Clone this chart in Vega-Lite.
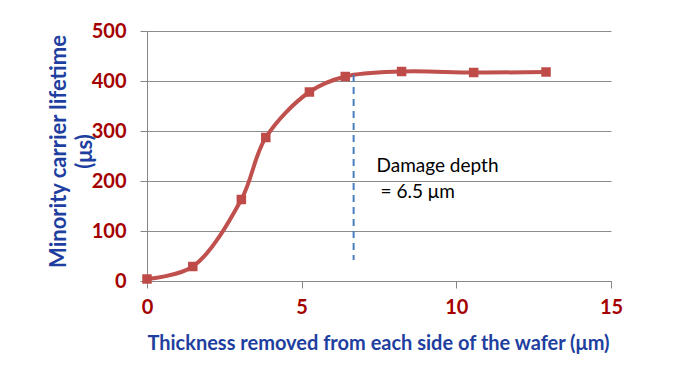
{
  "$schema": "https://vega.github.io/schema/vega-lite/v6.json",
  "width": 464,
  "height": 250,
  "autosize": {"type": "none"},
  "padding": {"left": 147, "top": 31, "right": 77, "bottom": 97},
  "background": "white",
  "config": {"view": {"stroke": null}},
  "datasets": {
    "curve": [
      {"thickness": 0, "lifetime": 4},
      {"thickness": 1.48, "lifetime": 29},
      {"thickness": 3.05, "lifetime": 163},
      {"thickness": 3.84, "lifetime": 287},
      {"thickness": 5.25, "lifetime": 378},
      {"thickness": 6.41, "lifetime": 409},
      {"thickness": 8.23, "lifetime": 419},
      {"thickness": 10.56, "lifetime": 417},
      {"thickness": 12.9, "lifetime": 418}
    ],
    "depth": [{"thickness": 6.68, "top": 412, "bottom": 42}],
    "notes": [
      {"thickness": 7.42, "lifetime": 219, "label": "Damage depth"},
      {"thickness": 7.55, "lifetime": 166, "label": "= 6.5 μm"}
    ]
  },
  "layer": [
    {
      "data": {"name": "curve"},
      "mark": {"type": "line", "color": "#C0504D", "strokeWidth": 4, "interpolate": "catmull-rom"},
      "encoding": {
        "x": {
          "field": "thickness", "type": "quantitative",
          "scale": {"domain": [0, 15], "nice": false, "zero": false},
          "axis": {
            "values": [0, 5, 10, 15],
            "grid": false,
            "domainColor": "#868686",
            "tickColor": "#868686",
            "tickSize": 7,
            "labelPadding": 9,
            "labelFlush": false,
            "labelFont": "Lato",
            "labelFontSize": 20,
            "labelFontWeight": "bold",
            "labelColor": "#A50000",
            "title": "Thickness removed from each side of the wafer (μm)",
            "titleFont": "Lato",
            "titleFontSize": 20,
            "titleFontWeight": "bold",
            "titleColor": "#1F3FA0",
            "titleX": 231,
            "titleY": 68,
            "titleAlign": "center",
            "titleBaseline": "alphabetic"
          }
        },
        "y": {
          "field": "lifetime", "type": "quantitative",
          "scale": {"domain": [0, 500], "nice": false},
          "axis": {
            "values": [0, 100, 200, 300, 400, 500],
            "grid": true,
            "gridColor": "#8C8C8C",
            "gridWidth": 1,
            "domainColor": "#868686",
            "tickColor": "#868686",
            "tickSize": 7,
            "labelPadding": 14,
            "labelFont": "Lato",
            "labelFontSize": 20,
            "labelFontWeight": "bold",
            "labelColor": "#A50000",
            "title": ["Minority carrier lifetime", "(μs)"],
            "titleFont": "Lato",
            "titleFontSize": 22,
            "titleFontWeight": "bold",
            "titleColor": "#1F3FA0",
            "titleAngle": -90,
            "titleX": -82,
            "titleY": 120,
            "titleAlign": "center",
            "titleBaseline": "alphabetic",
            "titleLineHeight": 26
          }
        }
      }
    },
    {
      "data": {"name": "curve"},
      "mark": {"type": "square", "color": "#BE4B48", "opacity": 1, "size": 90},
      "encoding": {
        "x": {"field": "thickness", "type": "quantitative"},
        "y": {"field": "lifetime", "type": "quantitative"}
      }
    },
    {
      "data": {"name": "depth"},
      "mark": {"type": "rule", "color": "#4A7EBB", "strokeWidth": 2, "strokeDash": [7, 5]},
      "encoding": {
        "x": {"field": "thickness", "type": "quantitative"},
        "y": {"field": "top", "type": "quantitative"},
        "y2": {"field": "bottom"}
      }
    },
    {
      "data": {"name": "notes"},
      "mark": {"type": "text", "align": "left", "baseline": "alphabetic", "font": "Lato", "fontSize": 19, "color": "#000000"},
      "encoding": {
        "x": {"field": "thickness", "type": "quantitative"},
        "y": {"field": "lifetime", "type": "quantitative"},
        "text": {"field": "label"}
      }
    }
  ]
}
